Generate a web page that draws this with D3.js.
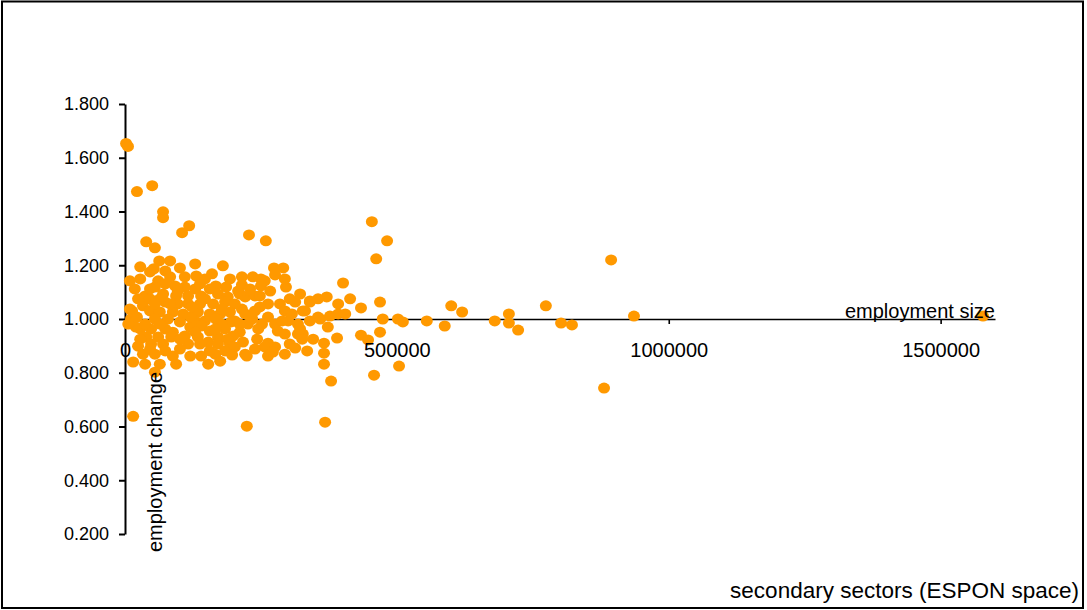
<!DOCTYPE html>
<html>
<head>
<meta charset="utf-8">
<script src="https://cdn.jsdelivr.net/npm/d3@7"></script>
<style>
  body { margin: 0; background: #fff; }
  text { font-family: Arial, "Liberation Sans", sans-serif; fill: #000; }
</style>
</head>
<body>
<svg id="chart" width="1087" height="610"></svg>
<script>
// Regions: [employment in secondary sectors, employment change index]
const regions = [
  [2000, 1.653], [5500, 1.642], [22000, 1.474], [50000, 1.496], [70000, 1.399],
  [70000, 1.377], [118000, 1.347], [105000, 1.321], [39000, 1.287], [55000, 1.265],
  [228000, 1.313], [259000, 1.291], [454000, 1.362], [482000, 1.291], [462000, 1.224],
  [894000, 1.220], [881000, 0.743], [936000, 1.011], [1578000, 1.011], [224000, 0.601],
  [368000, 0.616], [15000, 0.638], [379000, 0.769], [458000, 0.791], [504000, 0.825],
  [55000, 0.802],
  [511000, 0.989], [555000, 0.993], [588000, 0.974], [600000, 1.049], [620000, 1.026],
  [680000, 0.993], [706000, 1.019], [706000, 0.985], [723000, 0.959], [774000, 1.049],
  [802000, 0.985], [822000, 0.978],
  [401000, 1.134], [434000, 1.041], [469000, 1.063], [474000, 1.000], [502000, 1.000],
  [434000, 0.940], [447000, 0.922], [469000, 0.951], [366000, 0.910], [366000, 0.873],
  [366000, 0.832], [390000, 0.929], [335000, 0.881], [373000, 0.970], [392000, 1.056],
  [392000, 1.019], [371000, 1.082], [355000, 1.075], [340000, 1.063], [359000, 1.000],
  [377000, 1.011], [327000, 1.030], [327000, 0.944],
  [274000, 1.190], [291000, 1.190], [276000, 1.164], [215000, 1.157], [235000, 1.157],
  [250000, 1.149], [215000, 1.127], [250000, 1.123], [296000, 1.119], [221000, 1.082],
  [239000, 1.086], [263000, 1.056], [285000, 1.056], [313000, 1.063], [340000, 1.067],
  [215000, 1.037], [248000, 1.045], [294000, 1.030], [331000, 1.030], [202000, 0.993],
  [226000, 0.981], [263000, 1.007], [276000, 0.981], [300000, 0.993], [318000, 0.981],
  [355000, 1.007], [211000, 0.951], [245000, 0.963], [281000, 0.955], [318000, 0.944],
  [217000, 0.914], [243000, 0.925], [263000, 0.910], [294000, 0.944], [326000, 0.925],
  [303000, 0.907], [221000, 0.869], [257000, 0.896], [276000, 0.896], [313000, 0.892],
  [224000, 0.862], [263000, 0.862], [272000, 0.877],
  [180000, 1.198], [101000, 1.190], [74000, 1.179], [53000, 1.187], [46000, 1.175],
  [28000, 1.149], [61000, 1.142], [83000, 1.157], [131000, 1.160], [147000, 1.149],
  [92000, 1.123], [55000, 1.119], [110000, 1.119], [167000, 1.123], [186000, 1.119],
  [129000, 1.112], [37000, 1.086], [70000, 1.093], [94000, 1.086], [116000, 1.086],
  [140000, 1.086], [171000, 1.093], [189000, 1.082], [211000, 1.093],
  [9000, 1.037], [33000, 1.049], [74000, 1.063], [97000, 1.056], [116000, 1.056],
  [138000, 1.056], [162000, 1.056], [184000, 1.063], [202000, 1.056],
  [11000, 1.000], [46000, 1.030], [64000, 1.026], [88000, 1.026], [107000, 1.019],
  [134000, 1.026], [156000, 1.019], [175000, 1.019], [193000, 1.026],
  [55000, 1.000], [101000, 0.989], [129000, 0.993], [147000, 0.993], [167000, 1.000],
  [195000, 0.989],
  [28000, 0.963], [48000, 0.963], [74000, 0.963], [88000, 0.951], [120000, 0.970],
  [140000, 0.974], [156000, 0.955], [184000, 0.963],
  [39000, 0.933], [61000, 0.933], [85000, 0.933], [110000, 0.937], [134000, 0.933],
  [171000, 0.933], [199000, 0.937],
  [24000, 0.899], [48000, 0.907], [70000, 0.907], [116000, 0.907], [153000, 0.914],
  [171000, 0.907], [193000, 0.907],
  [33000, 0.869], [55000, 0.869], [88000, 0.862], [140000, 0.862], [166000, 0.869],
  [15000, 0.840], [94000, 0.832], [175000, 0.843],
  [13000, 1.030], [63000, 1.216],
  [147000, 1.075], [79000, 1.000], [120000, 1.007], [178000, 0.981], [64000, 1.075],
  [221000, 1.019], [239000, 1.030], [20000, 0.970],
  [18000, 1.112], [24000, 1.075], [46000, 1.075], [6000, 0.981], [22000, 1.007],
  [37000, 0.981], [64000, 0.981], [46000, 1.112], [74000, 1.131], [110000, 1.157],
  [138000, 1.131], [160000, 1.168], [193000, 1.149], [156000, 1.112], [97000, 1.104],
  [123000, 1.045], [83000, 1.056], [55000, 1.056], [28000, 0.925], [46000, 0.888],
  [74000, 0.881], [101000, 0.888], [120000, 0.862], [138000, 0.907], [156000, 0.881],
  [184000, 0.881], [202000, 0.896], [211000, 0.981], [234000, 1.000], [252000, 0.981],
  [289000, 0.993], [307000, 1.019], [267000, 1.104], [248000, 1.086], [322000, 1.093],
  [303000, 1.075], [230000, 1.112], [178000, 1.037], [208000, 1.104], [101000, 0.925],
  [129000, 0.951], [166000, 0.963], [189000, 0.925], [64000, 0.832], [37000, 0.832],
  [153000, 0.832], [197000, 0.866], [239000, 0.888], [294000, 0.869], [322000, 0.963],
  [340000, 0.993], [346000, 0.925], [405000, 1.019], [414000, 1.075], [294000, 1.149],
  [257000, 1.142], [83000, 1.216], [129000, 1.205], [28000, 1.194], [9000, 1.142]
];

const xTickValues = [0, 500000, 1000000, 1500000];
const yTickValues = [0.2, 0.4, 0.6, 0.8, 1.0, 1.2, 1.4, 1.6, 1.8];
const xAxisTitle = "employment size";
const yAxisTitle = "employment change";
const chartCaption = "secondary sectors (ESPON space)";

const svg = d3.select("#chart");

// outer frame
svg.append("rect")
  .attr("x", 2).attr("y", 1.5)
  .attr("width", 1081).attr("height", 606.5)
  .attr("fill", "#fff").attr("stroke", "#000").attr("stroke-width", 2);

const x = d3.scaleLinear().domain([0, 1600000]).range([125, 995]);
const y = d3.scaleLinear().domain([0.2, 1.8]).range([534, 104]);

const yAxis = d3.axisLeft(y)
  .tickValues(yTickValues)
  .tickFormat(d3.format(".3f"))
  .tickSize(6).tickSizeOuter(0).tickPadding(10);

const xAxis = d3.axisBottom(x)
  .tickValues(xTickValues)
  .tickFormat(d3.format("d"))
  .tickSize(5).tickSizeOuter(0);

// axis lines (beneath the markers)
const yLines = svg.append("g").attr("transform", `translate(${x(0)},0)`).call(yAxis);
yLines.selectAll("text").remove();
yLines.selectAll("path, line").attr("stroke", "#000").attr("stroke-width", 2);

const xLines = svg.append("g").attr("transform", `translate(0,${y(1)})`).call(xAxis);
xLines.selectAll("text").remove();
xLines.selectAll("path, line").attr("stroke", "#000").attr("stroke-width", 1.6);

// markers
svg.append("g")
  .selectAll("ellipse")
  .data(regions)
  .join("ellipse")
  .attr("cx", d => x(d[0]))
  .attr("cy", d => y(d[1]))
  .attr("rx", 6).attr("ry", 5.5)
  .attr("fill", "#ff9900");

// axis labels (above the markers)
const yText = svg.append("g").attr("transform", `translate(${x(0)},0)`).call(yAxis);
yText.select(".domain").remove();
yText.selectAll("line").remove();
yText.selectAll("text").attr("font-size", 18).attr("font-family", null);

const xText = svg.append("g").attr("transform", `translate(0,${y(1)})`).call(xAxis);
xText.select(".domain").remove();
xText.selectAll("line").remove();
xText.selectAll("text").attr("y", 24).attr("font-size", 20).attr("font-family", null);

svg.append("text")
  .attr("x", x(1600000)).attr("y", y(1) - 1)
  .attr("text-anchor", "end")
  .attr("font-size", 20)
  .text(xAxisTitle);

svg.append("text")
  .attr("transform", `translate(${x(0) + 37},552) rotate(-90)`)
  .attr("text-anchor", "start")
  .attr("font-size", 20)
  .text(yAxisTitle);

svg.append("text")
  .attr("x", 1079).attr("y", 598)
  .attr("text-anchor", "end")
  .attr("font-size", 22.5)
  .text(chartCaption);
</script>
</body>
</html>
